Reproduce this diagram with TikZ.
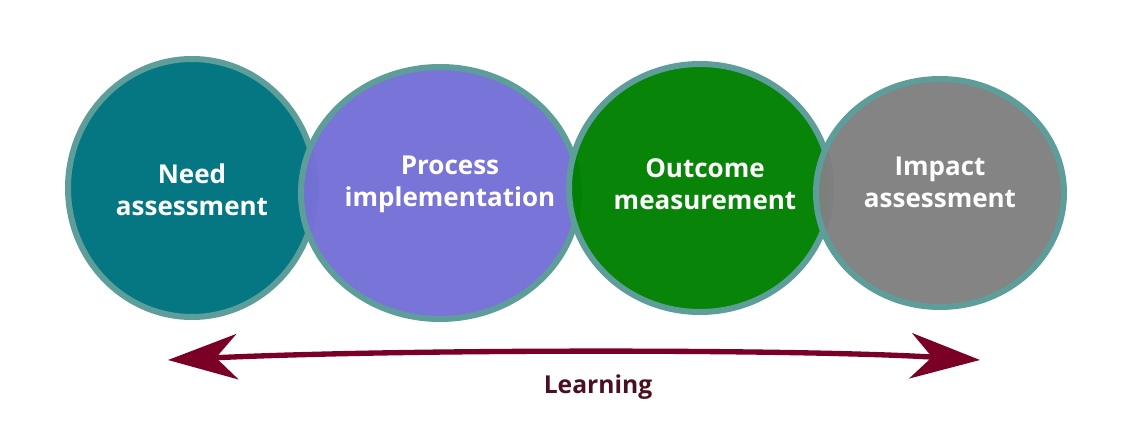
\documentclass[tikz,border=0pt]{standalone}
\usepackage{fontspec}
\setmainfont{Open Sans}
\usetikzlibrary{arrows.meta}
\definecolor{bd}{HTML}{5E9E9A}
\definecolor{c1}{HTML}{007480}
\definecolor{c2}{HTML}{7570D6}
\definecolor{c3}{HTML}{008000}
\definecolor{c4}{HTML}{808080}
\definecolor{ar}{HTML}{7A0026}
\definecolor{lt}{HTML}{4A1020}
\begin{document}
\begin{tikzpicture}[x=0.75pt,y=-0.75pt,
  lab/.style={text=white,font=\bfseries\fontsize{19.5}{24}\selectfont,align=center}]
\useasboundingbox (0,0) rectangle (1140,435);
\fill[c1,draw=bd,line width=4.5pt,fill opacity=0.98] (192,188) ellipse [x radius=124,y radius=129];
\fill[c2,draw=bd,line width=4.5pt,fill opacity=0.97] (440,193) ellipse [x radius=139,y radius=126];
\fill[c3,draw=bd,line width=4.5pt,fill opacity=0.97] (700,188) ellipse [x radius=131,y radius=124];
\fill[c4,draw=bd,line width=4.5pt,fill opacity=0.97] (940,193) ellipse [x radius=124,y radius=114];
\node[lab] (n1) at (192,190) {Need\\assessment};
\node[lab] (n2) at (450,184) {Process\\implementation};
\node[lab] (n3) at (705,184) {Outcome\\measurement};
\node[lab] (n4) at (940,182) {Impact\\assessment};
\coordinate (a) at (168,360);
\coordinate (b) at (980,360);
\draw[ar,line width=4pt,{Stealth[length=52pt,width=34pt,inset=16pt]}-{Stealth[length=52pt,width=34pt,inset=16pt]}] (a) .. controls (400,349) and (800,349) .. (b);
\node[text=lt,font=\bfseries\fontsize{18.5}{22}\selectfont] (l) at (598,387) {Learning};
\end{tikzpicture}
\end{document}
